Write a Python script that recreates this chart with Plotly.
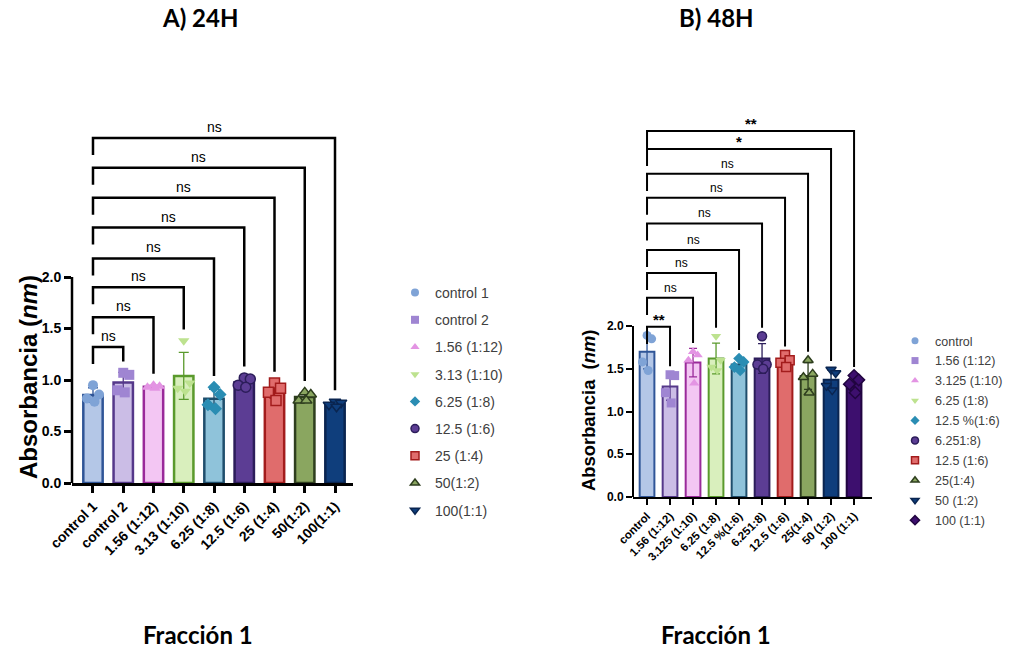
import numpy as np
import plotly.graph_objects as go

# ---------------- Panel A (24H) data ----------------
cats_a = ["control 1", "control 2", "1.56 (1:12)", "3.13 (1:10)", "6.25 (1:8)",
          "12.5 (1:6)", "25 (1:4)", "50(1:2)", "100(1:1)"]
a_control1 = [0.95, 0.86, 0.82, 0.79]
a_control2 = [1.07, 1.05, 0.90, 0.88]
a_156 = [0.95, 0.94, 0.93, 0.92]
a_313 = [1.38, 0.97, 0.92, 0.89]
a_625 = [0.93, 0.86, 0.76, 0.72]
a_125 = [1.02, 1.01, 0.95, 0.93]
a_25 = [0.97, 0.92, 0.88, 0.80]
a_50 = [0.88, 0.86, 0.80, 0.80]
a_100 = [0.79, 0.78, 0.76, 0.74]
a_points = [a_control1, a_control2, a_156, a_313, a_625, a_125, a_25, a_50, a_100]
a_sig_labels = ["ns"] * 8
a_sig_levels = [1.32, 1.61, 1.90, 2.18, 2.48, 2.77, 3.06, 3.35]

# ---------------- Panel B (48H) data ----------------
cats_b = ["control", "1.56 (1:12)", "3.125 (1:10)", "6.25 (1:8)", "12.5 %(1:6)",
          "6.251:8)", "12.5 (1:6)", "25(1:4)", "50 (1:2)", "100 (1:1)"]
b_control = [1.89, 1.85, 1.58, 1.48]
b_156 = [1.43, 1.42, 1.22, 1.10]
b_3125 = [1.70, 1.66, 1.60, 1.33]
b_625 = [1.88, 1.60, 1.52, 1.48]
b_125p = [1.62, 1.58, 1.52, 1.48]
b_6251 = [1.88, 1.55, 1.55, 1.50]
b_125 = [1.66, 1.60, 1.57, 1.52]
b_25 = [1.60, 1.44, 1.40, 1.22]
b_50 = [1.49, 1.45, 1.30, 1.25]
b_100 = [1.42, 1.37, 1.32, 1.22]
b_points = [b_control, b_156, b_3125, b_625, b_125p, b_6251, b_125, b_25, b_50, b_100]
b_sig_labels = ["**", "ns", "ns", "ns", "ns", "ns", "ns", "*", "**"]
b_sig_levels = [1.99, 2.33, 2.62, 2.89, 3.20, 3.50, 3.78, 4.07, 4.28]

y_ticks = [0.0, 0.5, 1.0, 1.5, 2.0]

# ---------------- styles ----------------
fill_a = ["#b4c7e7", "#cbbde6", "#f3c6f3", "#d9efbd", "#8fc3da", "#5c3d94", "#e06c6c", "#8aa660", "#0f3e7c"]
line_a = ["#2f5597", "#55388a", "#9a2a9a", "#5a9a2c", "#1f4e6c", "#2c1d5a", "#a31c1c", "#2e3e1e", "#0a2550"]
pt_a = ["#7fa3d6", "#9f85d2", "#e394e3", "#bde28f", "#2a8db3", "#5c3d94", "#e06c6c", "#8aa660", "#0f3e7c"]
ptline_a = [None, None, None, None, None, "#2c1d5a", "#a31c1c", "#2e3e1e", "#0a2550"]
sym_a = ["circle", "square", "triangle-up", "triangle-down", "diamond",
         "circle", "square", "triangle-up", "triangle-down"]

fill_b = ["#b4c7e7", "#cbbde6", "#f3c6f3", "#d9efbd", "#8fc3da", "#5c3d94", "#e06c6c", "#8aa660", "#0f3e7c", "#3d0f6e"]
line_b = ["#2f5597", "#55388a", "#9a2a9a", "#5a9a2c", "#1f4e6c", "#2c1d5a", "#a31c1c", "#2e3e1e", "#0a2550", "#210540"]
pt_b = ["#7fa3d6", "#9f85d2", "#e394e3", "#bde28f", "#2a8db3", "#5c3d94", "#e06c6c", "#8aa660", "#0f3e7c", "#3d0f6e"]
ptline_b = [None, None, None, None, None, "#2c1d5a", "#a31c1c", "#2e3e1e", "#0a2550", "#210540"]
sym_b = ["circle", "square", "triangle-up", "triangle-down", "diamond",
         "circle", "square", "triangle-up", "triangle-down", "diamond"]

jitter = [0.0, 0.2, -0.2, 0.05]
W, H = 1019, 649
AX = "Liberation Sans, Arial, sans-serif"
TITLE_FONT = "Lato, Open Sans, sans-serif"


def px_x(p):
    return p / W


def px_y(p):
    return 1 - p / H


fig = go.Figure()


def add_panel(cats, points, fills, lines, pts, ptlines, syms, xa, ya, legend_name,
              msize, lsize, bar_lw, err_w):
    for i, (c, vals) in enumerate(zip(cats, points)):
        vals = np.array(vals)
        mean = vals.mean()
        sd = vals.std(ddof=1)
        fig.add_trace(go.Bar(
            x=[i], y=[mean], width=0.64, xaxis=xa, yaxis=ya,
            marker=dict(color=fills[i], line=dict(color=lines[i], width=bar_lw)),
            error_y=dict(type="data", array=[sd], color=lines[i], thickness=1.3, width=err_w),
            showlegend=False, hoverinfo="skip"))
        mk = dict(color=pts[i], size=msize, symbol=syms[i])
        if ptlines[i]:
            mk["line"] = dict(color=ptlines[i], width=1.5)
        else:
            mk["line"] = dict(width=0)
        fig.add_trace(go.Scatter(
            x=[i + jitter[k % len(jitter)] for k in range(len(vals))], y=vals,
            mode="markers", marker=mk, xaxis=xa, yaxis=ya, name=c,
            showlegend=False))
        # legend entry with the smaller legend symbol
        lk = dict(mk)
        lk["size"] = lsize
        fig.add_trace(go.Scatter(
            x=[None], y=[None], mode="markers", marker=lk, xaxis=xa, yaxis=ya, name=c,
            legend=legend_name, legendgroup=legend_name + str(i), showlegend=True))


add_panel(cats_a, a_points, fill_a, line_a, pt_a, ptline_a, sym_a, "x", "y", "legend", 10, 8, 2.5, 5)
add_panel(cats_b, b_points, fill_b, line_b, pt_b, ptline_b, sym_b, "x2", "y2", "legend2", 9, 7, 2.0, 4)

shapes = []
annotations = []


def brackets(points, levels, labels, xref, yref, leg_len, pad, lw, fsize):
    for j, (lvl, lab) in enumerate(zip(levels, labels)):
        t = j + 1
        end = max(points[t]) + pad
        path = f"M 0,{lvl - leg_len} L 0,{lvl} L {t},{lvl} L {t},{end}"
        shapes.append(dict(type="path", path=path, xref=xref, yref=yref,
                           line=dict(color="black", width=lw)))
        bold = lab != "ns"
        annotations.append(dict(
            x=t / 2, y=lvl, xref=xref, yref=yref, text=(f"<b>{lab}</b>" if bold else lab),
            showarrow=False, yanchor="bottom", yshift=(-3 if bold else 1),
            font=dict(family=AX, size=fsize + (3 if bold else 0), color="black")))


brackets(a_points, a_sig_levels, a_sig_labels, "x", "y", 0.165, 0.11, 2.5, 14)
brackets(b_points, b_sig_levels, b_sig_labels, "x2", "y2", 0.2, 0.1, 2.0, 12)

# y axis lines only up to 2.0
shapes.append(dict(type="line", xref="x domain", yref="y", x0=0, x1=0, y0=0, y1=2.0,
                   line=dict(color="black", width=2.5)))
shapes.append(dict(type="line", xref="x2 domain", yref="y2", x0=0, x1=0, y0=0, y1=2.0,
                   line=dict(color="black", width=2.0)))

# titles
for txt, x, y in [("A) 24H", 200, 18), ("B) 48H", 716, 18),
                  ("Fracción 1", 198, 634), ("Fracción 1", 716, 634)]:
    annotations.append(dict(x=px_x(x), y=px_y(y), xref="paper", yref="paper", text=f"<b>{txt}</b>",
                            showarrow=False, xanchor="center", yanchor="middle",
                            font=dict(family=TITLE_FONT, size=24, color="black")))
annotations.append(dict(x=px_x(28), y=px_y(377), xref="paper", yref="paper",
                        text="<b>Absorbancia (<i>nm</i>)</b>", textangle=-90, showarrow=False,
                        xanchor="center", yanchor="middle", font=dict(family=AX, size=24, color="black")))
annotations.append(dict(x=px_x(588), y=px_y(411), xref="paper", yref="paper",
                        text="<b>Absorbancia\u00a0\u00a0(<i>nm</i>)</b>", textangle=-90, showarrow=False,
                        xanchor="center", yanchor="middle", font=dict(family=AX, size=18.4, color="black")))

# axes geometry (pixels)
ya_top = (483 - 113) / 103.0
yb_top = (497 - 113) / 85.5

fig.update_layout(
    width=W, height=H, margin=dict(l=0, r=0, t=0, b=0, pad=0, autoexpand=False),
    paper_bgcolor="white", plot_bgcolor="white",
    barmode="overlay", shapes=shapes, annotations=annotations,
    xaxis=dict(domain=[px_x(72), px_x(353)], range=[-0.694, 8.595], automargin=False,
               tickvals=list(range(len(cats_a))), ticktext=cats_a, tickangle=-45,
               showline=True, linecolor="black", linewidth=2.5, ticks="outside",
               ticklen=7, tickwidth=2.5, tickcolor="black", showgrid=False, zeroline=False,
               tickfont=dict(family=AX, size=14, color="black", weight="bold")),
    yaxis=dict(domain=[px_y(483), px_y(113)], range=[0, ya_top], automargin=False,
               tickvals=y_ticks, tickformat=".1f", ticks="outside", ticklen=7, tickwidth=2.5,
               tickcolor="black", showline=False, showgrid=False, zeroline=False,
               tickfont=dict(family=AX, size=14, color="black", weight="bold")),
    xaxis2=dict(domain=[px_x(633), px_x(872)], range=[-0.61, 9.78], anchor="y2", automargin=False,
                tickvals=list(range(len(cats_b))), ticktext=cats_b, tickangle=-45,
                showline=True, linecolor="black", linewidth=2.0, ticks="outside",
                ticklen=6, tickwidth=2.0, tickcolor="black", showgrid=False, zeroline=False,
                tickfont=dict(family=AX, size=11.5, color="black", weight="bold")),
    yaxis2=dict(domain=[px_y(497), px_y(113)], range=[0, yb_top], anchor="x2", automargin=False,
                tickvals=y_ticks, tickformat=".1f", ticks="outside", ticklen=6, tickwidth=2.0,
                tickcolor="black", showline=False, showgrid=False, zeroline=False,
                tickfont=dict(family=AX, size=12, color="black", weight="bold")),
    legend=dict(x=px_x(395), y=px_y(277), xanchor="left", yanchor="top",
                font=dict(family=AX, size=14, color="#404040"), bgcolor="rgba(0,0,0,0)",
                tracegroupgap=6, traceorder="grouped"),
    legend2=dict(x=px_x(895), y=px_y(326), xanchor="left", yanchor="top",
                 font=dict(family=AX, size=12.5, color="#404040"), bgcolor="rgba(0,0,0,0)",
                 tracegroupgap=0.7, traceorder="grouped"),
)

fig.write_html("out.html", config={"displayModeBar": False},
               post_script="document.body.style.margin='0';")
